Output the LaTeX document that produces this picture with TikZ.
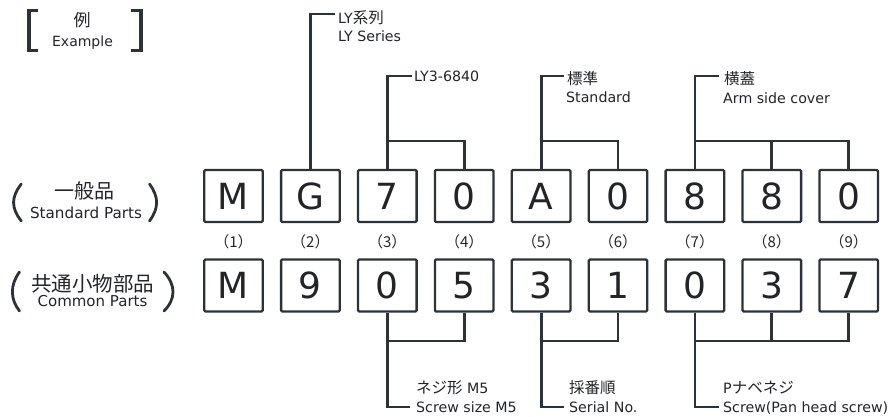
\documentclass[tikz,border=0pt]{standalone}
\usepackage{fontspec}
\setmainfont{DejaVu Sans}
\newfontfamily\jp{Noto Sans CJK JP}
\definecolor{linec}{RGB}{45,49,56}
\definecolor{textc}{RGB}{34,36,40}
\begin{document}
\begin{tikzpicture}[x=1pt,y=-1pt,
  digitbox/.style={draw=linec, line width=2.3pt, minimum width=58.6pt, minimum height=52pt,
    inner sep=0pt, rounded corners=1.2pt, font=\fontsize{36}{40}\selectfont, text=textc},
  conn/.style={draw=linec, line width=2.8pt},
  lbl/.style={anchor=base west, inner sep=0pt, font=\fontsize{14.2}{16}\selectfont, text=textc},
  jlbl/.style={anchor=base west, inner sep=0pt, font=\jp\fontsize{15.5}{17}\selectfont, text=textc},
  idx/.style={inner sep=0pt, font=\jp\fontsize{15}{17}\selectfont, text=textc},
  paren/.style={draw=linec, line width=2.8pt, line cap=round},
  brk/.style={draw=linec, line width=3.6pt},
]
\useasboundingbox (0,0) rectangle (893,416);

% Example bracket
\draw[brk] (38,10.5) -- (29,10.5) -- (29,50.5) -- (38,50.5);
\draw[brk] (131,10.5) -- (141,10.5) -- (141,50.5) -- (131,50.5);
\node[inner sep=0pt, font=\jp\fontsize{17}{19}\selectfont, text=textc] (rei) at (82,20.5) {例};
\node[inner sep=0pt, anchor=base, font=\fontsize{14}{16}\selectfont, text=textc] (example) at (82.5,46.5) {Example};

% Row captions
\draw[paren] (21.3,184) .. controls (11,197) and (11,208) .. (21.3,221);
\draw[paren] (149.5,184) .. controls (159,197) and (159,208) .. (149.5,221);
\node[inner sep=0pt, font=\jp\fontsize{20}{22}\selectfont, text=textc] (ippan) at (84,191) {一般品};
\node[inner sep=0pt, anchor=base, font=\fontsize{15.2}{17}\selectfont, text=textc] (stdparts) at (86,218.3) {Standard Parts};

\draw[paren] (19.5,272) .. controls (10,285) and (10,299) .. (19.5,311);
\draw[paren] (164,272) .. controls (176,285) and (176,299) .. (164,311);
\node[inner sep=0pt, font=\jp\fontsize{20.5}{22}\selectfont, text=textc] (kyotsu) at (92.5,283.5) {共通小物部品};
\node[inner sep=0pt, anchor=base, font=\fontsize{15}{17}\selectfont, text=textc] (commparts) at (92.5,306.7) {Common Parts};

% Boxes
\foreach \i/\t/\b [evaluate=\i as \x using 233.5+76.9*(\i-1)] in
  {1/M/M, 2/G/9, 3/7/0, 4/0/5, 5/A/3, 6/0/1, 7/8/0, 8/8/3, 9/0/7} {
  \node[digitbox] (t\i) at (\x,196) {\t};
  \node[digitbox] (b\i) at (\x,285.5) {\b};
  \node[idx] (n\i) at (\x,241.5) {（\i）};
}

% Top connectors
\coordinate (h1) at (0,141);
\coordinate (eG) at (335,14);
\draw[conn] (t2.north) |- (eG);
\coordinate (e3) at (412,76);
\draw[conn] (t4.north) |- (t3.north |- h1);
\draw[conn] (t3.north) |- (e3);
\coordinate (e5) at (564,76);
\draw[conn] (t6.north) |- (t5.north |- h1);
\draw[conn] (t5.north) |- (e5);
\coordinate (e7) at (719,76);
\draw[conn] (t9.north) |- (t7.north |- h1);
\draw[conn] (t8.north) -- (t8.north |- h1);
\draw[conn] (t7.north) |- (e7);

% Bottom connectors
\coordinate (h2) at (0,341);
\coordinate (f3) at (410,407);
\draw[conn] (b4.south) |- (b3.south |- h2);
\draw[conn] (b3.south) |- (f3);
\coordinate (f5) at (564,407);
\draw[conn] (b6.south) |- (b5.south |- h2);
\draw[conn] (b5.south) |- (f5);
\coordinate (f7) at (719,407);
\draw[conn] (b9.south) |- (b7.south |- h2);
\draw[conn] (b8.south) -- (b8.south |- h2);
\draw[conn] (b7.south) |- (f7);

% Top labels
\node[lbl] (ly1) at (338,23) {LY{\jp\fontsize{15.5}{17}\selectfont 系列}};
\node[lbl] (ly2) at (338,41) {LY Series};
\node[lbl] (ly3) at (414,81) {LY3-6840};
\node[jlbl] (std1) at (567,84) {標準};
\node[lbl] (std2) at (566,102) {Standard};
\node[jlbl] (arm1) at (724,84) {横蓋};
\node[lbl] (arm2) at (723,103) {Arm side cover};

% Bottom labels
\node[lbl] (scr1) at (416,393) {{\jp\fontsize{15.5}{17}\selectfont ネジ形} M5};
\node[lbl] (scr2) at (416,412) {Screw size M5};
\node[jlbl] (ser1) at (569,393) {採番順};
\node[lbl] (ser2) at (569,412) {Serial No.};
\node[lbl] (pan1) at (723,393) {P{\jp\fontsize{15.5}{17}\selectfont ナベネジ}};
\node[lbl] (pan2) at (723,412) {Screw(Pan head screw)};
\end{tikzpicture}
\end{document}
